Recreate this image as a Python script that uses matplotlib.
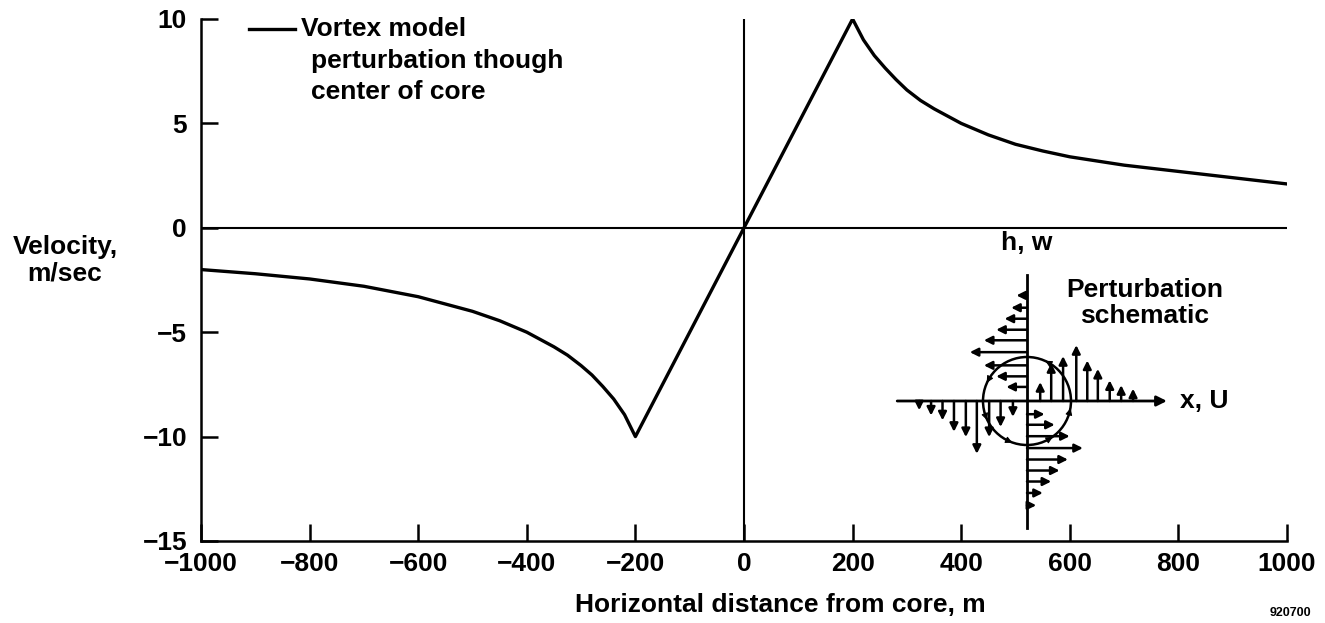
import numpy as np
import matplotlib
matplotlib.use('Agg')
from matplotlib import pyplot as plt
from matplotlib.patches import Circle

# curve
dist = [-1000, -900, -800, -700, -600, -500, -450, -400, -350, -325, -300,
        -280, -260, -240, -220, -200, 0, 200, 220, 240, 260, 280, 300, 325,
        350, 400, 450, 500, 550, 600, 700, 800, 900, 1000]
vel = [-2.0, -2.2, -2.45, -2.8, -3.3, -4.0, -4.45, -5.0, -5.7, -6.1, -6.6,
       -7.05, -7.6, -8.2, -8.95, -10.0, 0.0, 10.0, 9.0, 8.25, 7.65, 7.1,
       6.6, 6.1, 5.7, 5.0, 4.45, 4.0, 3.68, 3.4, 3.0, 2.7, 2.4, 2.1]

xticks = [-1000, -800, -600, -400, -200, 0, 200, 400, 600, 800, 1000]
yticks = [-15, -10, -5, 0, 5, 10]

# schematic arrows (circle radius = 1)
left_h = [2.40, 2.12, 1.87, 1.62, 1.38, 1.11, 0.81, 0.56, 0.32]
left_len = [0.24, 0.36, 0.51, 0.70, 0.98, 1.30, 0.98, 0.70, 0.47]
right_h = [-0.30, -0.54, -0.80, -1.07, -1.33, -1.58, -1.83, -2.09, -2.37]
right_len = [0.40, 0.63, 0.97, 1.27, 0.93, 0.74, 0.55, 0.36, 0.21]
up_x = [0.30, 0.55, 0.82, 1.12, 1.37, 1.61, 1.88, 2.14, 2.41]
up_len = [0.43, 0.86, 1.02, 1.27, 0.92, 0.73, 0.47, 0.36, 0.28]
down_x = [-0.32, -0.60, -0.86, -1.14, -1.39, -1.66, -1.92, -2.18, -2.45]
down_len = [0.36, 0.59, 0.82, 1.20, 0.82, 0.70, 0.44, 0.33, 0.21]
ring_angles = [60, 150, 200, 245, 300, 345]

plt.rcParams['font.family'] = ['Liberation Sans', 'DejaVu Sans']
plt.rcParams['font.weight'] = 'bold'
FS = 19

W, H = 1325, 623
fig = plt.figure(figsize=(W / 100, H / 100), dpi=100)
ax = fig.add_axes([201 / W, 1 - 541 / H, (1287 - 201) / W, (541 - 19) / H])

ax.plot(dist, vel, color='black', lw=2.4)
ax.axhline(0, color='black', lw=1.5)
ax.axvline(0, color='black', lw=1.5)

ax.set_xlim(-1000, 1000)
ax.set_ylim(-15, 10)
ax.set_xticks(xticks)
ax.set_yticks(yticks)
for s in ['top', 'right']:
    ax.spines[s].set_visible(False)
for s in ['left', 'bottom']:
    ax.spines[s].set_linewidth(1.8)
ax.tick_params(axis='both', direction='in', length=12, width=1.8,
               labelsize=FS)
ax.tick_params(axis='x', pad=8)
ax.tick_params(axis='y', pad=10)
for lab in ax.get_xticklabels() + ax.get_yticklabels():
    lab.set_fontweight('bold')

fig.text(780 / W, 1 - 605 / H, 'Horizontal distance from core, m',
         ha='center', va='center', fontsize=FS, fontweight='bold')
fig.text(65 / W, 1 - 260 / H, 'Velocity,\nm/sec', ha='center', va='center',
         fontsize=FS, fontweight='bold', linespacing=1.15)
fig.text(1290 / W, 1 - 619 / H, '920700', ha='center', va='bottom',
         fontsize=9)

# legend
fig.add_artist(plt.Line2D([249 / W, 295 / W], [1 - 29 / H, 1 - 29 / H],
                          color='black', lw=2.4))
fig.text(301 / W, 1 - 29 / H, 'Vortex model', ha='left', va='center',
         fontsize=FS, fontweight='bold')
fig.text(311 / W, 1 - 61 / H, 'perturbation though', ha='left',
         va='center', fontsize=FS, fontweight='bold')
fig.text(311 / W, 1 - 92 / H, 'center of core', ha='left',
         va='center', fontsize=FS, fontweight='bold')

# schematic inset (1 unit = 44 px)
cx, cy, u = 1027, 401, 44.0
px0, px1, py0, py1 = 870, 1240, 225, 535
sx = fig.add_axes([px0 / W, 1 - py1 / H, (px1 - px0) / W, (py1 - py0) / H])
sx.set_xlim((px0 - cx) / u, (px1 - cx) / u)
sx.set_ylim((cy - py1) / u, (cy - py0) / u)
sx.axis('off')
sx.patch.set_alpha(0)


def arr(x0, y0, x1, y1, ms=12, lw=1.8):
    sx.annotate('', xy=(x1, y1), xytext=(x0, y0),
                arrowprops=dict(arrowstyle='-|>', color='black', lw=lw,
                                mutation_scale=ms, shrinkA=0, shrinkB=0))


sx.plot([0, 0], [-2.89, 2.86], color='black', lw=2.0)
arr(-2.95, 0, 3.18, 0, ms=15, lw=2.0)
for h, l in zip(left_h, left_len):
    arr(0, h, -l, h)
for h, l in zip(right_h, right_len):
    arr(0, h, l, h)
for x, l in zip(up_x, up_len):
    arr(x, 0, x, l)
for x, l in zip(down_x, down_len):
    arr(x, 0, x, -l)
sx.add_patch(Circle((0, 0), 1.0, fill=False, color='black', lw=1.8))
for a in ring_angles:
    t = np.deg2rad(a)
    bx, by = np.cos(t), np.sin(t)
    tx, ty = -np.sin(t), np.cos(t)
    arr(bx - 0.1 * tx, by - 0.1 * ty, bx + 0.1 * tx, by + 0.1 * ty,
        ms=10, lw=0.8)

sx.text(0, (cy - 243) / u, 'h, w', ha='center', va='center', fontsize=FS,
        fontweight='bold')
sx.text((1145 - cx) / u, (cy - 303) / u, 'Perturbation\nschematic',
        ha='center', va='center', fontsize=FS, fontweight='bold',
        linespacing=1.15)
sx.text((1180 - cx) / u, 0, 'x, U', ha='left', va='center', fontsize=FS,
        fontweight='bold')

fig.savefig('out.png', dpi=100)
